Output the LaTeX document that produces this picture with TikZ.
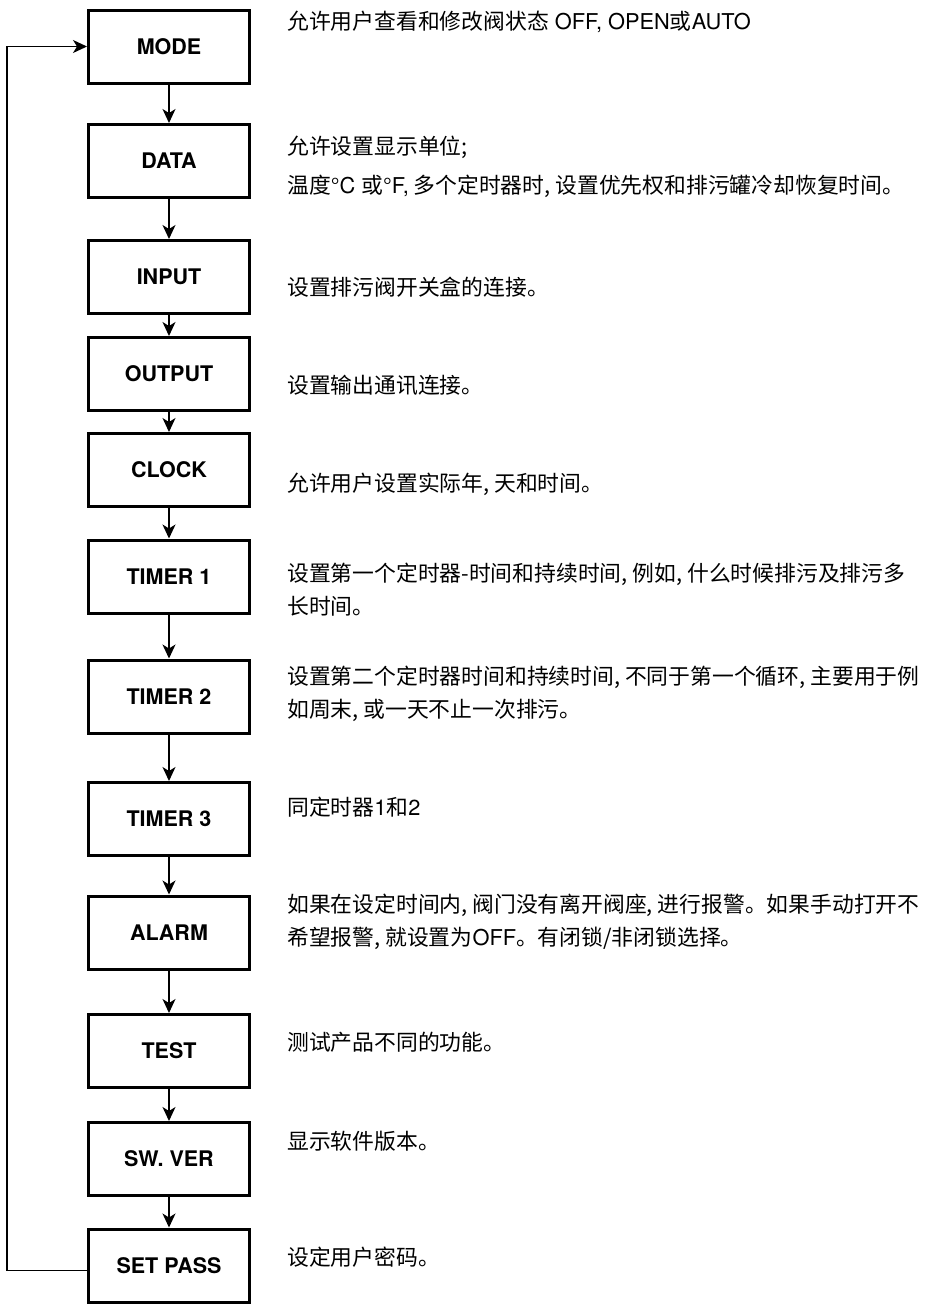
\documentclass[tikz,border=0pt]{standalone}
\usepackage{fontspec}
\setmainfont{TeX Gyre Heros}
\newfontfamily\cjk{Noto Sans CJK SC}
\newcommand\hv[1]{{\rmfamily#1}}
\usetikzlibrary{arrows.meta}

\begin{document}
\begin{tikzpicture}[x=1pt,y=-1pt,font=\cjk]
	\tikzset{StepBox/.style={draw,line width=3pt,minimum width=161pt,minimum height=73pt,
				inner sep=0pt,font=\rmfamily\fontsize{21.5}{26}\selectfont\bfseries},
			InfoText/.style={anchor=west,align=left,inner sep=0pt,
				font=\cjk\fontsize{21.8}{33}\selectfont},
			EdgeStyle/.style={line width=1.5pt,-{Stealth[length=14pt,width=13pt,inset=4pt]}}}
	\useasboundingbox (0,0) rectangle (926,1307);
	% steps
	\node[StepBox] (MD) at (169,46.5)  {MODE};
	\node[StepBox] (DT) at (169,161)   {DATA};
	\node[StepBox] (IN) at (169,277)   {INPUT};
	\node[StepBox] (OT) at (169,374)   {OUTPUT};
	\node[StepBox] (CK) at (169,470)   {CLOCK};
	\node[StepBox] (T1) at (169,576.5) {TIMER 1};
	\node[StepBox] (T2) at (169,696.5) {TIMER 2};
	\node[StepBox] (T3) at (169,819)   {TIMER 3};
	\node[StepBox] (AL) at (169,932.5) {ALARM};
	\node[StepBox] (TS) at (169,1051)  {TEST};
	\node[StepBox] (SV) at (169,1159)  {SW. VER};
	\node[StepBox] (SP) at (169,1265.5){SET PASS};
	% descriptions
	\node[InfoText] (MDtxt) at (287,22)    {允许用户查看和修改阀状态\hv{ OFF, OPEN}或\hv{AUTO}};
	\node[InfoText] (DTtxt) at (287,166.5) {允许设置显示单位;\\[6pt]温度\hv{°C }或\hv{°F,} 多个定时器时, 设置优先权和排污罐冷却恢复时间。};
	\node[InfoText] (INtxt) at (287,287)   {设置排污阀开关盒的连接。};
	\node[InfoText] (OTtxt) at (287,385)   {设置输出通讯连接。};
	\node[InfoText] (CKtxt) at (287,484)   {允许用户设置实际年, 天和时间。};
	\node[InfoText] (T1txt) at (287,589.5) {设置第一个定时器-时间和持续时间, 例如, 什么时候排污及排污多\\长时间。};
	\node[InfoText] (T2txt) at (287,694)   {设置第二个定时器时间和持续时间, 不同于第一个循环, 主要用于例\\如周末, 或一天不止一次排污。};
	\node[InfoText] (T3txt) at (287,807)   {同定时器\hv{1}和\hv{2}};
	\node[InfoText] (ALtxt) at (287,921.5) {如果在设定时间内, 阀门没有离开阀座, 进行报警。如果手动打开不\\希望报警, 就设置为\hv{OFF}。有闭锁/非闭锁选择。};
	\node[InfoText] (TStxt) at (287,1042)  {测试产品不同的功能。};
	\node[InfoText] (SVtxt) at (287,1141)  {显示软件版本。};
	\node[InfoText] (SPtxt) at (287,1257)  {设定用户密码。};
	% flow
	\draw[EdgeStyle] (MD) -- (DT);
	\draw[EdgeStyle] (DT) -- (IN);
	\draw[EdgeStyle] (IN) -- (OT);
	\draw[EdgeStyle] (OT) -- (CK);
	\draw[EdgeStyle] (CK) -- (T1);
	\draw[EdgeStyle] (T1) -- (T2);
	\draw[EdgeStyle] (T2) -- (T3);
	\draw[EdgeStyle] (T3) -- (AL);
	\draw[EdgeStyle] (AL) -- (TS);
	\draw[EdgeStyle] (TS) -- (SV);
	\draw[EdgeStyle] (SV) -- (SP);
	\draw[EdgeStyle, line width=1.2pt] ([yshift=-5pt]SP.west) -- ++(-80,0) |- (MD.west);
\end{tikzpicture}
\end{document}
